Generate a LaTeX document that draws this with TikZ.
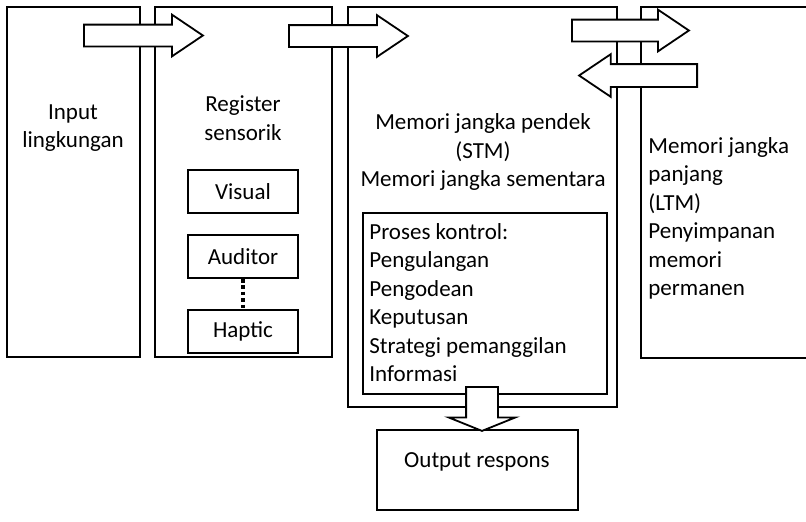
\documentclass[tikz,border=0pt]{standalone}
\usepackage{fontspec}
\setmainfont{Carlito}
\usetikzlibrary{shapes.arrows}

\begin{document}
\begin{tikzpicture}[x=0.5pt, y=-0.5pt, every node/.style={font=\fontsize{11.5}{14.25}\selectfont}, box/.style={draw,line width=0.9pt,inner sep=0pt}, sub/.style={box,minimum width=55pt,minimum height=21.5pt}, txt/.style={inner sep=0pt,align=center}, blk/.style={single arrow,draw,fill=white,line width=0.9pt,inner xsep=0pt,inner ysep=5pt,single arrow head extend=5pt,single arrow tip angle=68,minimum height=59.5pt,anchor=tail}]
\useasboundingbox (0,0) rectangle (806,521);
\node[box,minimum width=66.5pt,minimum height=175pt] (input) at (73.5,182) {};
\node[txt] (inputlbl) at (73,128) {Input\\lingkungan};
\node[box,minimum width=88.5pt,minimum height=175pt] (register) at (243.5,182) {};
\node[txt] (reglbl) at (243,118) {Register\\sensorik};
\node[sub] (visual) at (243,191.5) {Visual};
\node[sub] (auditor) at (243,256.5) {Auditor};
\node[sub] (haptic) at (243,331.5) {Haptic};
\node[box,minimum width=134.5pt,minimum height=200pt] (stm) at (482.5,207) {};
\node[txt] (stmlbl) at (483,152) {Memori jangka pendek\\(STM)\\Memori jangka sementara};
\node[box,minimum width=122pt,minimum height=90.5pt] (proses) at (485,303.5) {};
\node[txt,align=left,anchor=north west] (proseslbl) at (369,223) {Proses kontrol:\\Pengulangan\\Pengodean\\Keputusan\\Strategi pemanggilan\\Informasi};
\node[box,minimum width=85.5pt,minimum height=175.5pt] (ltm) at (726.5,182.5) {};
\node[txt,align=left,anchor=north west] (ltmlbl) at (648,137) {Memori jangka\\panjang\\(LTM)\\Penyimpanan\\memori\\permanen};
\node[box,minimum width=100.5pt,minimum height=40pt] (output) at (477.5,470) {};
\node[txt] (outlbl) at (477,462) {Output respons};
\draw[line width=1.8pt,dash pattern=on 1.8pt off 1.4pt] (auditor.south) -- (haptic.north);
\node[blk] (in2reg) at (83,35.5) {};
\node[blk] (reg2stm) at (288,36) {};
\node[blk,minimum height=58.5pt] (stm2ltm) at (571,30.5) {};
\node[blk,shape border rotate=180,inner ysep=5.25pt,minimum height=59pt] (ltm2stm) at (698,75.5) {};
\node[blk,shape border rotate=270,inner xsep=7.5pt,inner ysep=0pt,single arrow head extend=8.75pt,single arrow tip angle=136,minimum height=22pt] (stm2out) at (482,386) {};
\end{tikzpicture}
\end{document}
